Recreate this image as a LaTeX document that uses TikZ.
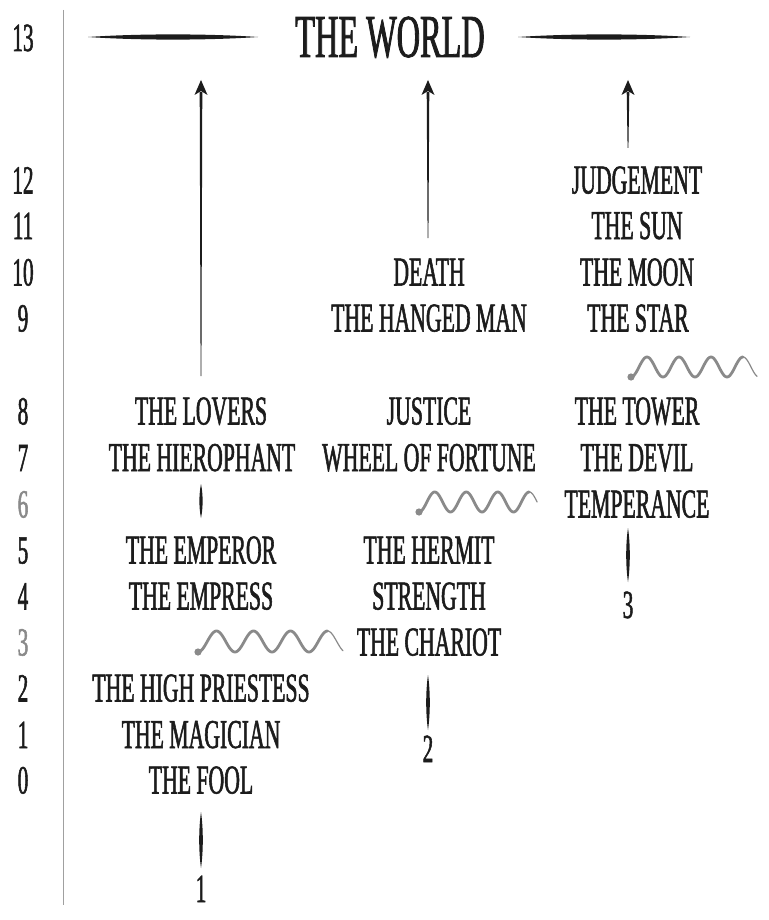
\documentclass[tikz,border=0pt]{standalone}
\usepackage{fontspec}
\setmainfont[FakeStretch=0.53,FakeBold=1.3]{Liberation Serif}
\usetikzlibrary{arrows.meta}
\definecolor{ink}{HTML}{1C1C1C}
\definecolor{wavegray}{HTML}{8A8A8A}
\definecolor{axisgray}{HTML}{A0A0A0}
\definecolor{numgray}{HTML}{8A8A8A}

% vertical tapered stroke: x, ytop, ybottom, halfwidth
\newcommand\myLensV[4]{%
  \fill[ink] (#1,#2) .. controls ({#1+1.33*#4},{#2+0.3*(#3-#2)}) and ({#1+1.33*#4},{#3-0.3*(#3-#2)}) .. (#1,#3)
     .. controls ({#1-1.33*#4},{#3-0.3*(#3-#2)}) and ({#1-1.33*#4},{#2+0.3*(#3-#2)}) .. (#1,#2) -- cycle;}
% horizontal tapered stroke: y, xleft, xright, halfwidth
\newcommand\myLensH[4]{%
  \fill[ink] (#2,#1) .. controls ({#2+0.3*(#3-#2)},{#1-1.33*#4}) and ({#3-0.3*(#3-#2)},{#1-1.33*#4}) .. (#3,#1)
     .. controls ({#3-0.3*(#3-#2)},{#1+1.33*#4}) and ({#2+0.3*(#3-#2)},{#1+1.33*#4}) .. (#2,#1) -- cycle;}
% wave: x0, y0, period, height, end (in periods)
\newcommand\myWavy[5]{%
  \fill[wavegray] (#1,#2) circle (3.6);
  \draw[wavegray, line width=2.8pt, line cap=round] plot[domain=0:{3.5*#3}, samples=140, smooth] ({#1+\x},{#2-#4/2*(1-cos(\x*(360/#3)))});
  \draw[wavegray, line width=1.2pt, line cap=round] plot[domain={3.5*#3}:{#5*#3}, samples=30, smooth] ({#1+\x},{#2-#4/2*(1-cos(\x*(360/#3)))});}
% tapered arrow: x, ybottom, ytip
\newcommand\myArrowUp[3]{%
  \fill[ink] ({#1-1.3},{#3+12}) -- ({#1+1.3},{#3+12}) -- ({#1+0.4},#2) -- ({#1-0.4},#2) -- cycle;
  \fill[ink] (#1,#3) -- ({#1+6.5},{#3+15}) -- (#1,{#3+11}) -- ({#1-6.5},{#3+15}) -- cycle;}

\begin{document}
\begin{tikzpicture}[x=1pt,y=-1pt,
  lbl/.style={font=\fontsize{41}{41}\selectfont, text=ink, inner sep=0pt, anchor=base},
  num/.style={font=\fontsize{40}{40}\selectfont, text=ink, inner sep=0pt, anchor=base},
  gnum/.style={num, text=numgray},
  title/.style={font=\fontsize{61}{61}\selectfont, text=ink, inner sep=0pt, anchor=base}]
\useasboundingbox (0,0) rectangle (768,920);
\fill[white] (0,0) rectangle (768,920);

% axis
\draw[axisgray, line width=1pt] (63,10) -- (63,905);

% row numbers
\node[num]  (n13) at (23,51) {13};
\node[num]  (n12) at (23,193.5) {12};
\node[num]  (n11) at (23,239) {11};
\node[num]  (n10) at (23,285.5) {10};
\node[num]  (n9)  at (23,331.5) {9};
\node[num]  (n8)  at (23,424.5) {8};
\node[num]  (n7)  at (23,471) {7};
\node[gnum] (n6)  at (23,517.5) {6};
\node[num]  (n5)  at (23,563.5) {5};
\node[num]  (n4)  at (23,609.5) {4};
\node[gnum] (n3)  at (23,655.5) {3};
\node[num]  (n2)  at (23,701.5) {2};
\node[num]  (n1)  at (23,748) {1};
\node[num]  (n0)  at (23,793.5) {0};

% title
\node[title] (world) at (390,57) {THE WORLD};
\myLensH{37}{88}{258}{2.6}
\myLensH{37}{518}{690}{2.6}

% column 1
\node[lbl] (lovers) at (201,424.5) {THE LOVERS};
\node[lbl] (hiero)  at (202,471) {THE HIEROPHANT};
\node[lbl] (emperor) at (201,563.5) {THE EMPEROR};
\node[lbl] (empress) at (201,609.5) {THE EMPRESS};
\node[lbl] (priestess) at (201,701.5) {THE HIGH PRIESTESS};
\node[lbl] (magician) at (201,748) {THE MAGICIAN};
\node[lbl] (fool) at (201,793.5) {THE FOOL};
\node[num] (c1) at (201,902) {1};

% column 2
\node[lbl] (death) at (429,285.5) {DEATH};
\node[lbl] (hanged) at (429,331.5) {THE HANGED MAN};
\node[lbl] (justice) at (429,424.5) {JUSTICE};
\node[lbl] (wheel) at (429,471) {WHEEL OF FORTUNE};
\node[lbl] (hermit) at (429,563.5) {THE HERMIT};
\node[lbl] (strength) at (429,609.5) {STRENGTH};
\node[lbl] (chariot) at (429,655.5) {THE CHARIOT};
\node[num] (c2) at (428,762) {2};

% column 3
\node[lbl] (judgement) at (637,193.5) {JUDGEMENT};
\node[lbl] (sun) at (637,239) {THE SUN};
\node[lbl] (moon) at (637,285.5) {THE MOON};
\node[lbl] (star) at (638,331.5) {THE STAR};
\node[lbl] (tower) at (637,424.5) {THE TOWER};
\node[lbl] (devil) at (637,471) {THE DEVIL};
\node[lbl] (temperance) at (637,517.5) {TEMPERANCE};
\node[num] (c3) at (628,618) {3};

% arrows to THE WORLD
\myArrowUp{201}{376}{80}
\myArrowUp{428}{238}{80}
\myArrowUp{628}{148}{80}

% vertical strokes
\myLensV{201}{484}{518}{1.6}
\myLensV{201}{812}{868}{1.8}
\myLensV{428}{675}{730}{1.8}
\myLensV{628}{528}{582}{1.8}

% waves
\myWavy{198}{652}{37}{21}{3.92}
\myWavy{419}{512}{31.5}{20}{3.75}
\myWavy{631}{377}{32}{20}{3.94}
\end{tikzpicture}
\end{document}
